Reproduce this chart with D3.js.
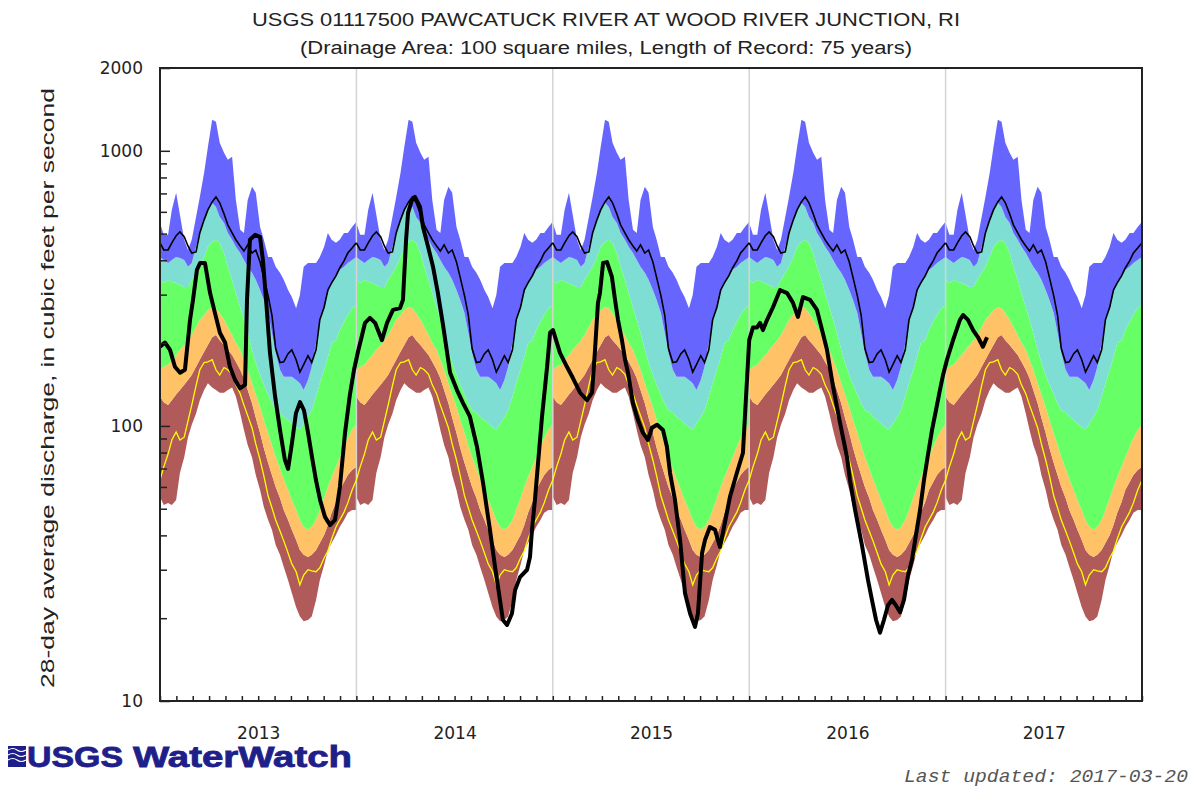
<!DOCTYPE html>
<html>
<head>
<meta charset="utf-8">
<script src="https://cdn.jsdelivr.net/npm/d3@7"></script>
<style>
    html, body { margin: 0; padding: 0; background: #fff; }
    svg { display: block; }
</style>
</head>
<body>
<div id="chart"></div>
<script>
// one year of daily-statistics, repeated for every year shown
const years = [2013, 2014, 2015, 2016, 2017];
const dayOfYear = [0,7,15,22,30,37,45,52,59,67,74,82,89,97,104,111,119,126,134,141,149,156,163,171,178,186,193,201,208,215,223,230,238,245,253,260,267,275,282,290,297,305,312,319,327,334,342,349,357,365];

const maxFlow = [547,495,495,610,704,585,475,436,475,575, 680,832,1033,1297,1275,1069,983,927,952,663, 516,503,663,740,704,529,475,411,411,379, 360,340,312,294,268,299,379,391,391,391, 411,448,503,475,463,475,503,503,529,552];
const p90Flow = [411,401,391,401,411,408,401,379,391,448, 503,561,610,647,625,575,547,503,475,448, 425,401,379,360,340,312,287,257,218,184, 160,151,151,151,147,143,135,147,164,200, 243,270,304,331,348,369,379,391,401,411];
const p75Flow = [340,331,340,334,331,325,320,320,340,360, 379,411,448,467,475,463,425,379,340,304, 270,243,218,189,170,153,141,130,121,114, 112,108,105,102,99,97,102,108,114,128, 143,160,178,200,205,223,239,253,268,275];
const p25Flow = [160,164,167,174,181,189,197,205,214,229, 243,253,264,270,268,257,243,229,214,200, 189,174,160,143,130,117,105,94,85,77, 70,64,58.5,53.8,49.5,45.5,43,41.9,43,45.5, 49.5,54.7,60,65.2,71,77,84,90.4,96.7,102];
const p10Flow = [128,122,119,124,130,135,141,147,153,164, 174,186,197,210,214,205,197,189,181,171, 160,149,135,121,107,94.3,83.2,73.3,66.3,60, 54.7,49.5,45.5,41.9,38.5,35.4,34,33.4,34,35.4, 37.5,40.1,43.6,48.3,52.9,58.5,62.5,66.3,69.2,71];
const minFlow = [55.2,51.6,52.5,51.6,53.8,67.4,77,91,101,111, 124,135,143,138,135,132,132,135,138,128, 111,96.7,85.3,77,66.3,58.5,50.7,45.5,41.9,36.9, 34,30.7,27.5,24.7,21.9,20.3,19.5,19.7,20.3,23.3, 27.5,31.2,35.4,37.5,40.1,42.9,45.5,48.3,49.5,49.5];
const meanFlow = [463,436,436,463,491,507,487,451,425,429, 503,561,610,652,680,647,590,538,503,475, 451,432,455,425,436,394,346,297,253,191, 170,171,183,189,174,157,167,180,170,189, 243,270,312,331,351,375,398,425,443,463];
const yellowFlow = [63.6,71,79,88.9,95,88.9,91,104,119,140, 160,170,171,174,160,153,163,160,154,141, 131,119,109,98.5,86,75.2,65.8,55.6,50.4,45.5, 41.5,38.2,34.5,31.5,29.5,26.4,28.7,30,29.7,29.5, 30.5,33.1,35.1,38.8,42.9,45.5,48.6,52.5,58.5,63.6];

// observed 28-day average, decimal year / cfs
const obsYear = [
    2013.000,2013.025,2013.051,2013.076,2013.102,2013.127,2013.153,2013.168,2013.188,2013.204,
    2013.229,2013.255,2013.280,2013.305,2013.331,2013.356,2013.382,2013.407,2013.433,2013.443,
    2013.458,2013.484,2013.509,2013.524,2013.540,2013.560,2013.586,2013.611,2013.636,2013.652,
    2013.672,2013.692,2013.713,2013.733,2013.754,2013.774,2013.794,2013.815,2013.840,2013.866,
    2013.891,2013.916,2013.942,2013.967,2013.988,
    2014.008,2014.029,2014.044,2014.069,2014.095,2014.130,2014.156,2014.186,2014.222,2014.237,
    2014.253,2014.263,2014.283,2014.298,2014.324,2014.339,2014.365,2014.390,2014.415,2014.441,
    2014.477,2014.512,2014.543,2014.578,2014.614,2014.645,2014.680,2014.706,2014.731,2014.746,
    2014.767,2014.792,2014.808,2014.833,2014.869,2014.884,2014.894,2014.909,2014.925,2014.945,
    2014.971,2014.986,
    2015.001,2015.037,2015.072,2015.103,2015.139,2015.174,2015.200,2015.215,2015.230,2015.240,
    2015.256,2015.276,2015.301,2015.317,2015.332,2015.352,2015.368,2015.383,2015.408,2015.434,
    2015.459,2015.485,2015.505,2015.531,2015.561,2015.581,2015.597,2015.622,2015.648,2015.673,
    2015.699,2015.724,2015.739,2015.760,2015.775,2015.800,2015.826,2015.851,2015.866,2015.902,
    2015.937,2015.968,2015.983,
    2016.000,2016.019,2016.040,2016.055,2016.070,2016.091,2016.121,2016.157,2016.193,2016.223,
    2016.248,2016.274,2016.310,2016.345,2016.371,2016.396,2016.427,2016.462,2016.498,2016.513,
    2016.539,2016.574,2016.605,2016.625,2016.646,2016.666,2016.686,2016.707,2016.727,2016.747,
    2016.768,2016.788,2016.809,2016.829,2016.849,2016.870,2016.890,2016.910,2016.931,2016.951,
    2016.971,2016.987,
    2017.007,2017.038,2017.073,2017.089,2017.114,2017.140,2017.165,2017.190,2017.211
];
const obsFlow = [
    194,201,189,164,156,160,243,287,369,391,
    391,304,257,218,201,164,147,137,141,287,
    475,495,487,401,287,184,128,96.7,75.2,69.8,
    86.7,111,122,114,94.3,77,63.6,53.8,46.7,43.6,
    45.5,60,94.3,130,160,
    186,214,237,247,237,205,237,264,268,287,
    475,595,663,680,625,529,448,379,304,233,
    156,135,121,108,84,62,41.9,30.7,23.3,19.7,
    18.9,20.8,25.3,28.2,30,33.4,41.9,53.8,73.3,108,
    164,218,
    223,184,164,149,132,124,132,189,280,304,
    391,394,348,287,243,205,174,156,121,105,
    94.3,88.9,98.5,101,96.7,84,67.4,53.8,38.5,24.7,
    20.8,18.6,20.8,34.5,38.5,42.9,41.9,36.3,40.8,55.2,
    67.4,79.7,124,
    205,228,228,237,223,243,270,312,304,280,
    249,294,287,264,223,189,139,103,77,63.6,
    49.5,36.9,27.5,23.3,19.7,17.7,19.7,22.3,23.3,22.3,
    21,23.3,28.7,32.6,40.1,49.5,63.6,78.4,96.7,114,
    135,153,
    174,205,243,253,243,223,210,194,210
];

const yMajor = [10, 100, 1000, 2000];
const yMinor = [20,30,40,50,60,70,80,90,200,300,400,500,600,700,800,900];

const titleText = "USGS 01117500 PAWCATUCK RIVER AT WOOD RIVER JUNCTION, RI";
const subtitleText = "(Drainage Area: 100 square miles, Length of Record: 75 years)";
const yLabelText = "28-day average discharge, in cubic feet per second";

class FlowChart{
    constructor(parent){
        this.parent = d3.select(parent);
        this.wSvg = 1198;
        this.hSvg = 789;
        this.plot = {left: 160, right: 1142, top: 68, bottom: 701};

        this.bands = [
            {lo: minFlow, hi: p10Flow, color: "#b05a5a"},
            {lo: p10Flow, hi: p25Flow, color: "#ffc266"},
            {lo: p25Flow, hi: p75Flow, color: "#66ff66"},
            {lo: p75Flow, hi: p90Flow, color: "#7fded3"},
            {lo: p90Flow, hi: maxFlow, color: "#6666ff"}
        ];

        this.init();
    }

    init(){
        this.svg = this.parent.append("svg")
            .attr("width", this.wSvg)
            .attr("height", this.hSvg)
            .attr("viewBox", `0 0 ${this.wSvg} ${this.hSvg}`)
            .style("font-family", "'Liberation Sans', Arial, sans-serif");

        this.prepScales();
        this.renderBands();
        this.renderLines();
        this.renderAxes();
        this.renderText();
        this.renderLogo();
    }

    prepScales(){
        const p = this.plot;
        this.x = d3.scaleLinear().domain([2013, 2018]).range([p.left, p.right]);
        this.y = d3.scaleLog().domain([10, 2000]).range([p.bottom, p.top]);

        this.svg.append("clipPath").attr("id", "plot-clip")
            .append("rect")
            .attr("x", p.left).attr("y", p.top)
            .attr("width", p.right - p.left).attr("height", p.bottom - p.top);
    }

    yearRows(yr, series){
        return dayOfYear.map((d, i) => ({x: yr + d / 365, v: series[i]}));
    }

    renderBands(){
        const g = this.svg.append("g").attr("clip-path", "url(#plot-clip)");

        years.forEach(yr => {
            this.bands.forEach(band => {
                const rows = dayOfYear.map((d, i) => ({x: yr + d / 365, lo: band.lo[i], hi: band.hi[i]}));
                const area = d3.area()
                    .x(d => this.x(d.x))
                    .y0(d => this.y(d.lo))
                    .y1(d => this.y(d.hi));
                g.append("path")
                    .attr("d", area(rows))
                    .attr("fill", band.color);
            });
        });

        // year separators
        g.selectAll("line.year")
            .data(years.slice(1))
            .enter()
            .append("line")
                .attr("x1", d => this.x(d)).attr("x2", d => this.x(d))
                .attr("y1", this.plot.top).attr("y2", this.plot.bottom)
                .attr("stroke", "#d4d4d4")
                .attr("stroke-width", 1.5);
        this.gPlot = g;
    }

    renderLines(){
        const line = d3.line()
            .x(d => this.x(d.x))
            .y(d => this.y(d.v));

        years.forEach(yr => {
            this.gPlot.append("path")
                .attr("d", line(this.yearRows(yr, yellowFlow)))
                .attr("fill", "none")
                .attr("stroke", "#ffff00")
                .attr("stroke-width", 1.3);
            this.gPlot.append("path")
                .attr("d", line(this.yearRows(yr, meanFlow)))
                .attr("fill", "none")
                .attr("stroke", "#000")
                .attr("stroke-width", 1.6);
        });

        const obs = obsYear.map((d, i) => ({x: d, v: obsFlow[i]}));
        this.gPlot.append("path")
            .attr("d", line(obs))
            .attr("fill", "none")
            .attr("stroke", "#000")
            .attr("stroke-width", 4)
            .attr("stroke-linejoin", "round");
    }

    renderAxes(){
        const p = this.plot;

        const months = [];
        years.forEach(yr => d3.range(12).forEach(m => months.push(yr + m / 12)));
        months.push(2018);

        this.svg.append("g")
            .attr("transform", `translate(0,${p.bottom})`)
            .call(d3.axisBottom(this.x).tickValues(months).tickSize(-5).tickFormat(""))
            .call(g => g.select(".domain").remove())
            .call(g => g.selectAll("line").attr("stroke", "#222").attr("stroke-width", 1.5));

        this.svg.append("g")
            .attr("transform", `translate(0,${p.bottom})`)
            .call(d3.axisBottom(this.x).tickValues(years.map(d => d + 0.5)).tickSize(0).tickPadding(26)
                .tickFormat(d => Math.floor(d)))
            .call(g => g.select(".domain").remove())
            .call(g => g.selectAll("text")
                .attr("fill", "#222")
                .style("font-family", "'DejaVu Sans', sans-serif")
                .style("font-size", "17px"));

        this.svg.append("g")
            .attr("transform", `translate(${p.left},0)`)
            .call(d3.axisLeft(this.y).tickValues(yMinor).tickSize(-7).tickFormat(""))
            .call(g => g.select(".domain").remove())
            .call(g => g.selectAll("line").attr("stroke", "#222").attr("stroke-width", 1.5));

        this.svg.append("g")
            .attr("transform", `translate(${p.left},0)`)
            .call(d3.axisLeft(this.y).tickValues(yMajor).tickSize(-10).tickPadding(17).tickFormat(d3.format("d")))
            .call(g => g.select(".domain").remove())
            .call(g => g.selectAll("line").attr("stroke", "#222").attr("stroke-width", 1.5))
            .call(g => g.selectAll("text")
                .attr("fill", "#222")
                .style("font-family", "'DejaVu Sans', sans-serif")
                .style("font-size", "17px"));

        this.svg.append("rect")
            .attr("x", p.left).attr("y", p.top)
            .attr("width", p.right - p.left).attr("height", p.bottom - p.top)
            .attr("fill", "none")
            .attr("stroke", "#222")
            .attr("stroke-width", 2);
    }

    renderText(){
        this.svg.append("text")
            .attr("x", 252).attr("y", 26)
            .attr("textLength", 708).attr("lengthAdjust", "spacingAndGlyphs")
            .style("font-size", "18px").attr("fill", "#222")
            .text(titleText);

        this.svg.append("text")
            .attr("x", 300).attr("y", 54)
            .attr("textLength", 612).attr("lengthAdjust", "spacingAndGlyphs")
            .style("font-size", "18px").attr("fill", "#222")
            .text(subtitleText);

        this.svg.append("text")
            .attr("transform", "translate(54,388) rotate(-90)")
            .attr("text-anchor", "middle")
            .attr("textLength", 600).attr("lengthAdjust", "spacingAndGlyphs")
            .style("font-size", "18px").attr("fill", "#222")
            .text(yLabelText);

        this.svg.append("text")
            .attr("x", 904).attr("y", 782)
            .attr("textLength", 284).attr("lengthAdjust", "spacingAndGlyphs")
            .style("font-family", "'Liberation Mono', monospace")
            .style("font-style", "italic")
            .style("font-size", "19px")
            .attr("fill", "#555")
            .text("Last updated: 2017-03-20");
    }

    renderLogo(){
        const navy = "#1f1f8a";
        const g = this.svg.append("g");

        g.append("rect")
            .attr("x", 8).attr("y", 746).attr("width", 18).attr("height", 21)
            .attr("fill", navy);
        [750, 755, 760].forEach(yy => {
            g.append("path")
                .attr("d", `M8,${yy} q5,-3 9,0 t9,0`)
                .attr("fill", "none")
                .attr("stroke", "#fff")
                .attr("stroke-width", 1.2);
        });

        g.append("text")
            .attr("x", 27).attr("y", 767)
            .attr("textLength", 96).attr("lengthAdjust", "spacingAndGlyphs")
            .style("font-family", "'Liberation Sans Narrow', 'Liberation Sans', sans-serif")
            .style("font-weight", "bold")
            .style("font-size", "29px")
            .attr("fill", navy)
            .attr("stroke", navy).attr("stroke-width", 0.8)
            .text("USGS");

        g.append("text")
            .attr("x", 133).attr("y", 767)
            .attr("textLength", 219).attr("lengthAdjust", "spacingAndGlyphs")
            .style("font-weight", "bold")
            .style("font-size", "29px")
            .attr("fill", navy)
            .attr("stroke", navy).attr("stroke-width", 0.8)
            .text("WaterWatch");
    }
}

new FlowChart(document.getElementById("chart"));
</script>
</body>
</html>
